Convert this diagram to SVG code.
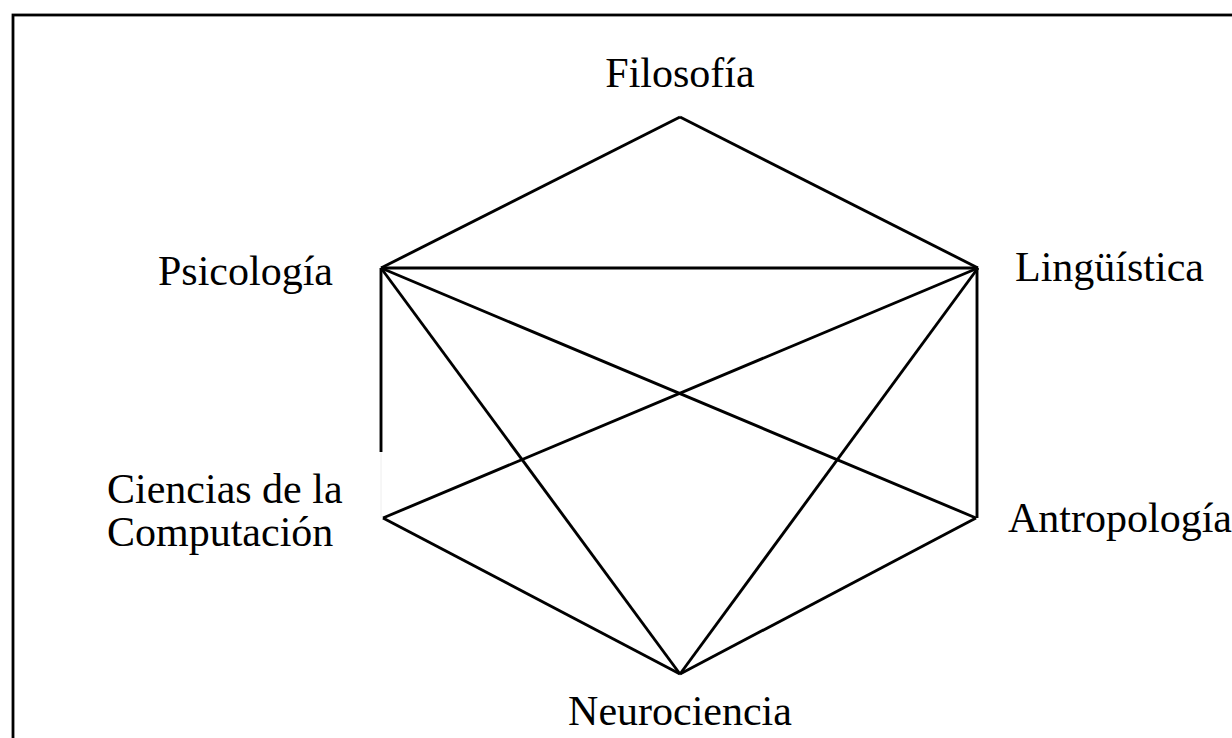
<svg xmlns="http://www.w3.org/2000/svg" width="1232" height="738" viewBox="0 0 1232 738">
<style>
.lbl{font-family:"Liberation Serif","Times New Roman",serif;font-size:42px;fill:#000}
.e{stroke:#000;stroke-width:2.9;fill:none;stroke-linecap:butt}
</style>
<rect x="0" y="0" width="1232" height="738" fill="#fff"/>
<rect x="13" y="15" width="1240" height="740" fill="none" stroke="#000" stroke-width="2.8"/>
<g id="connectors">
<line class="e" x1="680" y1="117" x2="381" y2="268"/>
<line class="e" x1="680" y1="117" x2="978" y2="268"/>
<line class="e" x1="381" y1="268" x2="978" y2="268"/>
<line class="e" x1="381" y1="268" x2="680" y2="674"/>
<line class="e" x1="381" y1="268" x2="976" y2="518"/>
<line class="e" x1="381" y1="268" x2="381" y2="452"/>
<line x1="381" y1="452" x2="381" y2="518" stroke="#eeeeee" stroke-width="1"/>
<line class="e" x1="978" y1="268" x2="383" y2="518"/>
<line class="e" x1="978" y1="268" x2="680" y2="674"/>
<line class="e" x1="977" y1="268" x2="977" y2="518"/>
<line class="e" x1="383" y1="518" x2="680" y2="674"/>
<line class="e" x1="976" y1="518" x2="680" y2="674"/>
</g>
<g id="filosofia"><text class="lbl" x="680" y="87" text-anchor="middle">Filosofía</text></g>
<g id="psicologia"><text class="lbl" x="158" y="285">Psicología</text></g>
<g id="linguistica"><text class="lbl" x="1015" y="281">Lingüística</text></g>
<g id="computacion"><text class="lbl" x="107" y="503">Ciencias de la</text><text class="lbl" x="107" y="546">Computación</text></g>
<g id="antropologia"><text class="lbl" x="1008" y="532">Antropología</text></g>
<g id="neurociencia"><text class="lbl" x="680" y="725" text-anchor="middle">Neurociencia</text></g>
</svg>
